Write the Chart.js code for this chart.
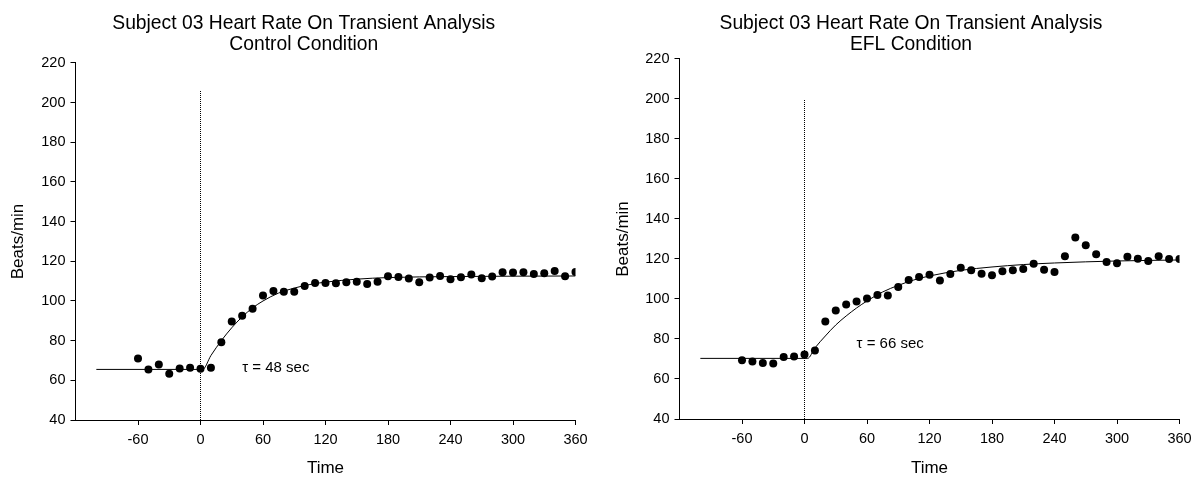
<!DOCTYPE html>
<html>
<head>
<meta charset="utf-8">
<title>Subject 03 Heart Rate On Transient Analysis</title>
<script src="https://cdn.jsdelivr.net/npm/chart.js@4/dist/chart.umd.min.js"></script>
<style>
  html, body { margin: 0; padding: 0; background: #fff; overflow: hidden; }
  body { width: 1200px; height: 479px; position: relative; }
  canvas { position: absolute; top: 0; }
  #grafico-control { left: 0; }
  #grafico-efl { left: 600px; }
</style>
</head>
<body>
<canvas id="grafico-control" width="600" height="479"></canvas>
<canvas id="grafico-efl" width="600" height="479"></canvas>
<script>
/* ===========================
   Frecuencia cardiaca - análisis del transitorio (sujeto 03)
   =========================== */

// --------- Datos ---------

const TIEMPOS = [-60, -50, -40, -30, -20, -10, 0, 10, 20, 30, 40, 50, 60, 70, 80, 90, 100, 110,
  120, 130, 140, 150, 160, 170, 180, 190, 200, 210, 220, 230, 240, 250, 260, 270, 280, 290,
  300, 310, 320, 330, 340, 350, 360];

const FC_CONTROL = [71, 65.5, 68, 63.3, 66, 66.3, 65.8, 66.3, 79.2, 89.7, 92.6, 96.1, 102.8, 105,
  104.7, 104.7, 107.5, 109, 109, 108.9, 109.4, 109.7, 108.6, 109.7, 112.5, 112.1, 111.3, 109.4,
  111.8, 112.6, 111, 112, 113.3, 111.5, 112.3, 114.5, 114.3, 114.5, 113.6, 114, 115.1, 112.5, 114.6];

const FC_EFL = [69.4, 68.7, 68, 67.7, 71, 71.3, 72.3, 74.3, 88.8, 94.2, 97.2, 98.7, 100.2, 102,
  101.7, 106, 109.5, 111, 112.1, 109.2, 112.5, 115.6, 114.3, 112.6, 111.8, 113.8, 114.3, 115,
  117.6, 114.6, 113.5, 121.3, 130.7, 126.9, 122.4, 118.5, 117.8, 121.1, 120.1, 119, 121.4, 120, 120];

// curva de ajuste
const AJUSTE_T_CONTROL = [-100, 0, 2, 10, 20, 30, 40, 50, 60, 75, 90, 105, 120, 150, 180, 240, 300, 360];
const AJUSTE_CONTROL = [65.5, 65.5, 65.5, 72.5, 80, 86.5, 92, 96.5, 100, 104, 106.5, 108.3, 109.5, 111, 111.8, 112.3, 112.5, 112.6];

const AJUSTE_T_EFL = [-100, 0, 3, 10, 20, 30, 40, 50, 60, 75, 90, 105, 120, 150, 180, 210, 240, 300, 360];
const AJUSTE_EFL = [70.3, 70.3, 70.3, 75.5, 81.5, 87, 91.5, 95.5, 99, 103.5, 106.8, 109.5, 111.5, 114.3, 116, 117.2, 118, 119, 119.5];

const TICKS_X = [-60, 0, 60, 120, 180, 240, 300, 360];
const TICKS_Y = [40, 60, 80, 100, 120, 140, 160, 180, 200, 220];

const TITULO_1 = 'Subject 03 Heart Rate On Transient Analysis';

Chart.defaults.font.family = '"Liberation Sans", Arial, Helvetica, sans-serif';
Chart.defaults.color = '#000';

// --------- Plugin texto tau ---------

const pluginTau = {
  id: 'textoTau',
  afterDatasetsDraw(chart, args, opts) {
    const { ctx, scales } = chart;
    ctx.save();
    ctx.font = '15px "Liberation Sans", Arial, sans-serif';
    ctx.fillStyle = '#000';
    ctx.textAlign = 'left';
    ctx.textBaseline = 'middle';
    ctx.fillText(opts.texto, scales.x.getPixelForValue(opts.x), scales.y.getPixelForValue(opts.y));
    ctx.restore();
  },
};

// --------- Gráficos ---------

function crearGrafico(id, cfg) {
  const puntos = TIEMPOS.map((t, i) => ({ x: t, y: cfg.fc[i] }));
  const ajuste = cfg.ajusteT.map((t, i) => ({ x: t, y: cfg.ajuste[i] }));

  return new Chart(document.getElementById(id), {
    type: 'scatter',
    data: {
      datasets: [
        {
          label: 'HR',
          data: puntos,
          showLine: false,
          pointRadius: 4,
          pointBackgroundColor: '#000',
          pointBorderWidth: 0,
        },
        {
          label: 'Fit',
          data: ajuste,
          showLine: true,
          borderColor: '#000',
          borderWidth: 1,
          pointRadius: 0,
          cubicInterpolationMode: 'monotone',
        },
        {
          label: 'Onset',
          data: [{ x: 0, y: 40 }, { x: 0, y: cfg.topeCero }],
          showLine: true,
          borderColor: '#000',
          borderWidth: 1,
          borderDash: [1, 1],
          pointRadius: 0,
        },
      ],
    },
    options: {
      responsive: false,
      animation: false,
      layout: { padding: { left: cfg.padIzq, right: cfg.padDer, top: 0, bottom: 0 } },
      plugins: {
        legend: { display: false },
        tooltip: { enabled: false },
        title: {
          display: true,
          text: [TITULO_1, cfg.subtitulo],
          color: '#000',
          font: { size: 19.3, weight: 'normal', lineHeight: 1.12 },
          padding: { top: 12.5, bottom: cfg.padTitulo },
        },
        textoTau: { texto: cfg.tau, x: cfg.tauX, y: cfg.tauY },
      },
      scales: {
        x: {
          type: 'linear',
          min: -120,
          max: 360,
          afterBuildTicks: s => { s.ticks = TICKS_X.map(v => ({ value: v })); },
          afterFit: s => { s.height = 479 - cfg.abajo; },
          ticks: { font: { size: 14.5 }, color: '#000', padding: 6, maxRotation: 0, autoSkip: false },
          grid: { display: true, drawOnChartArea: false, drawTicks: true, tickLength: 5, tickColor: '#000' },
          border: { display: true, color: '#000', width: 1 },
          title: { display: true, text: 'Time', color: '#000', font: { size: 17 }, padding: { top: 0, bottom: 0 } },
        },
        y: {
          type: 'linear',
          min: 40,
          max: 220,
          afterBuildTicks: s => { s.ticks = TICKS_Y.map(v => ({ value: v })); },
          afterFit: s => { s.width = cfg.anchoY; },
          ticks: { font: { size: 14.5 }, color: '#000', padding: 5 },
          grid: { display: true, drawOnChartArea: false, drawTicks: true, tickLength: 5, tickColor: '#000' },
          border: { display: true, color: '#000', width: 1 },
          title: { display: true, text: 'Beats/min', color: '#000', font: { size: 17 }, padding: { top: cfg.padTituloY, bottom: 0 } },
        },
      },
    },
    plugins: [pluginTau],
  });
}

crearGrafico('grafico-control', {
  fc: FC_CONTROL,
  ajusteT: AJUSTE_T_CONTROL,
  ajuste: AJUSTE_CONTROL,
  subtitulo: 'Control Condition',
  topeCero: 206,
  tau: 'τ = 48 sec',
  tauX: 40,
  tauY: 66.2,
  padIzq: 32,
  anchoY: 43.5,
  padDer: 24.5,
  abajo: 420,
  padTitulo: 7.2,
  padTituloY: -23.9,
});

crearGrafico('grafico-efl', {
  fc: FC_EFL,
  ajusteT: AJUSTE_T_EFL,
  ajuste: AJUSTE_EFL,
  subtitulo: 'EFL Condition',
  topeCero: 200,
  tau: 'τ = 66 sec',
  tauX: 50,
  tauY: 77.7,
  padIzq: 42.5,
  anchoY: 37,
  padDer: 20.5,
  abajo: 419,
  padTitulo: 3.2,
  padTituloY: -29.4,
});
</script>
</body>
</html>
